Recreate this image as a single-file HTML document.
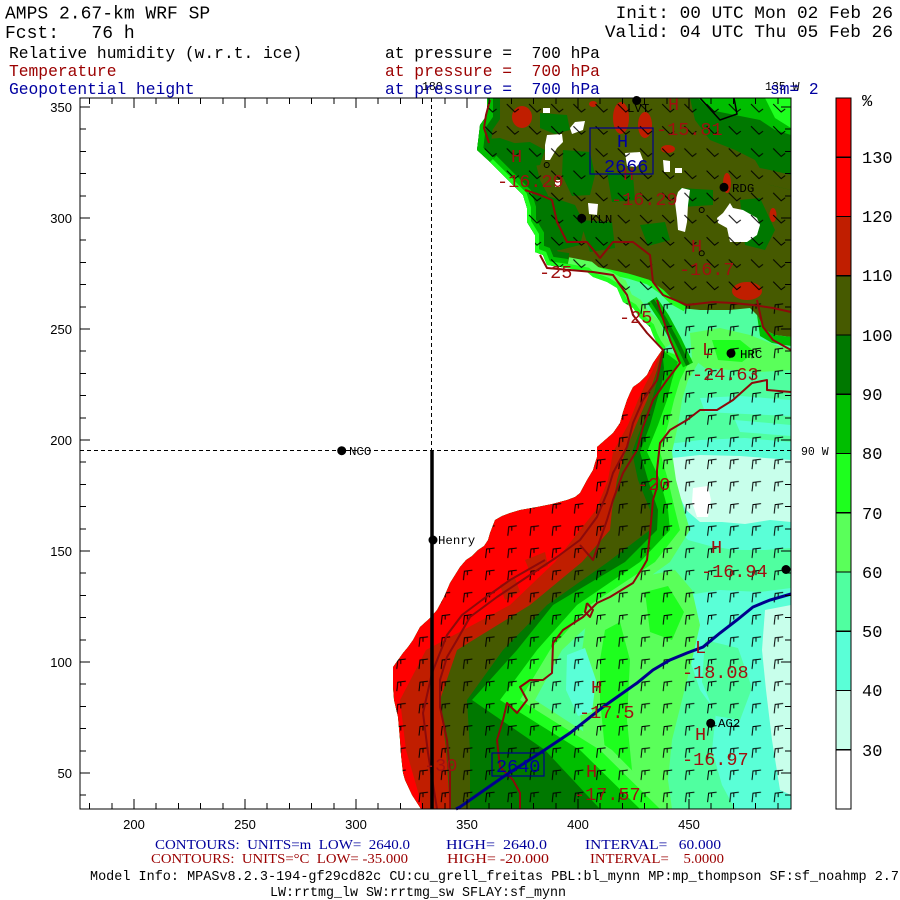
<!DOCTYPE html>
<html><head><meta charset="utf-8"><style>
html,body{margin:0;padding:0;background:#fff;}
svg{display:block;}
text{white-space:pre;}
</style></head><body>
<svg width="900" height="900" viewBox="0 0 900 900" xmlns="http://www.w3.org/2000/svg">
<defs>
<clipPath id="cp"><polygon points="487,98 791,98 791,809 421,809 412,795 405,780 403,773 401,755 400,740 398,717 394,700 393,687 393,667 398,660 403,653 408,647 413,640 420,627 430,618 437,610 444,597 450,583 455,575 460,567 466,560 472,556 478,550 484,546 488,540 490,533 495,520 502,516 510,513 520,510 537,507 552,504 567,500 575,497 580,493 587,480 593,470 595,463 597,457 597,447 605,440 613,433 620,423 623,412 627,400 630,393 633,387 640,382 647,375 653,363 662,350 657,343 653,335 650,327 640,318 633,308 623,302 617,288 607,282 593,277 587,272 567,268 547,265 543,255 535,252 535,235 527,222 527,208 523,195 513,185 490,162 477,150 478,142 480,125 487,115"/></clipPath>
<pattern id="bn" x="80" y="98" width="22.2" height="22.2" patternUnits="userSpaceOnUse">
<path d="M5,6 L13,14 L17,11" stroke="#000" stroke-width="1" fill="none"/>
</pattern>
<pattern id="bs" x="80" y="98" width="22.2" height="22.2" patternUnits="userSpaceOnUse">
<path d="M6,16 L7,7 L15,6 M10,7 L10,11" stroke="#000" stroke-width="1" fill="none"/>
</pattern>
</defs>
<rect width="900" height="900" fill="#fff"/>

<g clip-path="url(#cp)">
<rect x="80" y="98" width="711" height="711" fill="#50FFA0"/>
<polygon fill="#5AFFD7" points="700,398 740,396 791,400 791,416 745,414 705,412"/>
<polygon fill="#5AFFD7" points="735,420 791,425 791,436 740,432"/>
<polygon fill="#5AFFD7" points="660,445 700,440 745,438 791,442 791,548 765,550 735,550 710,546 688,540 672,522 664,495 662,470"/>
<polygon fill="#C8FFEB" points="672,458 700,455 740,456 791,460 791,522 770,520 745,524 722,522 700,522 686,510 676,488"/>
<polygon fill="#FFFFFF" points="693,488 708,486 711,500 708,517 697,517 692,502"/>
<polygon fill="#5AFFD7" points="688,595 720,590 760,592 791,588 791,809 735,809 722,785 712,750 716,712 700,690 690,660 692,625"/>
<polygon fill="#50FFA0" points="705,640 738,648 752,688 740,720 716,716 702,682"/>
<polygon fill="#C8FFEB" points="765,610 791,605 791,795 780,790 772,740 766,690 762,650"/>
<polygon fill="#5AFF5A" points="590,600 620,585 650,575 675,570 692,590 700,625 692,660 682,700 672,740 668,780 672,809 612,809 598,775 585,740 578,705 580,665 585,630"/>
<polygon fill="#1EFF1E" points="605,630 620,622 630,660 627,720 632,770 645,809 618,809 606,760 600,700 600,660"/>
<polygon fill="#1EFF1E" points="645,592 668,586 684,612 672,640 650,632"/>
<polygon fill="#5AFFD7" points="567,655 585,648 596,680 592,712 578,716 566,690"/>
<polygon fill="#5AFF5A" points="662,350 653,363 647,375 640,382 633,387 630,393 627,400 623,412 620,423 613,433 605,440 597,447 597,457 595,463 593,470 587,480 580,493 575,497 567,500 552,504 537,507 520,510 510,513 502,516 495,520 490,533 488,540 484,546 478,550 472,556 466,560 460,567 455,575 450,583 444,597 437,610 430,618 420,627 413,640 408,647 403,653 398,660 393,667 393,687 394,700 398,717 400,740 401,755 403,773 405,780 412,795 421,809 670,809 612,750 535,700 562,650 610,605 670,562 690,530 684,510 676,480 672,452 678,425 682,400 688,380 700,360"/>
<polygon fill="#1EFF1E" points="662,350 653,363 647,375 640,382 633,387 630,393 627,400 623,412 620,423 613,433 605,440 597,447 597,457 595,463 593,470 587,480 580,493 575,497 567,500 552,504 537,507 520,510 510,513 502,516 495,520 490,533 488,540 484,546 478,550 472,556 466,560 460,567 455,575 450,583 444,597 437,610 430,618 420,627 413,640 408,647 403,653 398,660 393,667 393,687 394,700 398,717 400,740 401,755 403,773 405,780 412,795 421,809 660,809 600,750 520,700 550,650 590,605 655,562 680,530 675,510 668,480 660,452 668,425 674,400 680,380 690,360"/>
<polygon fill="#00BE00" points="662,350 653,363 647,375 640,382 633,387 630,393 627,400 623,412 620,423 613,433 605,440 597,447 597,457 595,463 593,470 587,480 580,493 575,497 567,500 552,504 537,507 520,510 510,513 502,516 495,520 490,533 488,540 484,546 478,550 472,556 466,560 460,567 455,575 450,583 444,597 437,610 430,618 420,627 413,640 408,647 403,653 398,660 393,667 393,687 394,700 398,717 400,740 401,755 403,773 405,780 412,795 421,809 640,809 580,750 500,700 537,650 577,605 640,562 670,530 668,510 660,480 647,452 658,425 667,400 672,380 678,362"/>
<polygon fill="#007800" points="662,350 653,363 647,375 640,382 633,387 630,393 627,400 623,412 620,423 613,433 605,440 597,447 597,457 595,463 593,470 587,480 580,493 575,497 567,500 552,504 537,507 520,510 510,513 502,516 495,520 490,533 488,540 484,546 478,550 472,556 466,560 460,567 455,575 450,583 444,597 437,610 430,618 420,627 413,640 408,647 403,653 398,660 393,667 393,687 394,700 398,717 400,740 401,755 403,773 405,780 412,795 421,809 600,809 545,750 472,700 517,650 553,605 625,562 657,530 658,510 648,480 640,452 650,425 657,400 662,382 664,368"/>
<polygon fill="#465A00" points="662,350 653,363 647,375 640,382 633,387 630,393 627,400 623,412 620,423 613,433 605,440 597,447 597,457 595,463 593,470 587,480 580,493 575,497 567,500 552,504 537,507 520,510 510,513 502,516 495,520 490,533 488,540 484,546 478,550 472,556 466,560 460,567 455,575 450,583 444,597 437,610 430,618 420,627 413,640 408,647 403,653 398,660 393,667 393,687 394,700 398,717 400,740 401,755 403,773 405,780 412,795 421,809 470,809 470,750 467,700 503,650 547,605 608,562 650,530 650,510 638,480 632,452 642,425 652,400 657,382 660,368"/>
<polygon fill="#C01E00" points="662,350 653,363 647,375 640,382 633,387 630,393 627,400 623,412 620,423 613,433 605,440 597,447 597,457 595,463 593,470 587,480 580,493 575,497 567,500 552,504 537,507 520,510 510,513 502,516 495,520 490,533 488,540 484,546 478,550 472,556 466,560 460,567 455,575 450,583 444,597 437,610 430,618 420,627 413,640 408,647 403,653 398,660 393,667 393,687 394,700 398,717 400,740 401,755 403,773 405,780 412,795 421,809 450,809 446,750 440,700 457,650 530,605 582,562 610,530 612,510 617,480 625,452 636,425 647,400 652,385 657,370"/>
<polygon fill="#FF0000" points="662,350 653,363 647,375 640,382 633,387 630,393 627,400 623,412 620,423 613,433 605,440 597,447 597,457 595,463 593,470 587,480 580,493 575,497 567,500 552,504 537,507 520,510 510,513 502,516 495,520 490,533 488,540 484,546 478,550 472,556 466,560 460,567 455,575 450,583 444,597 437,610 430,618 420,627 413,640 408,647 403,653 398,660 393,667 393,687 394,700 398,717 400,740 401,755 403,773 405,780 412,795 421,809 423,809 406,750 400,700 426,650 510,605 555,562 580,530 596,510 608,480 613,452 628,425 638,400 645,385 652,372"/>
<polygon fill="#C01E00" points="500,585 515,578 520,592 505,600"/>
<polygon fill="#C01E00" points="525,560 545,552 548,566 530,572"/>
<path d="M652,300 L664,318 L676,340 L688,365" stroke="#00BE00" stroke-width="11" fill="none"/>
<path d="M652,300 L664,318 L676,340 L688,365" stroke="#007800" stroke-width="4" fill="none"/>
<polygon fill="#5AFF5A" points="690,333 720,328 750,335 775,345 791,350 791,370 760,372 730,370 705,368 692,358"/>
<polygon fill="#1EFF1E" points="712,340 740,340 755,352 742,362 718,360"/>
<polygon fill="#465A00" points="470,98 791,98 791,337 775,335 765,330 757,315 750,308 730,310 700,310 680,308 668,300 660,292 645,282 625,277 600,272 575,267 545,260 470,200"/>
<polygon fill="#00BE00" points="757,315 765,330 775,335 791,337 791,346 772,343 760,336"/>
<g fill="#007800">
<polygon points="476,140 500,138 520,145 535,160 540,180 548,195 545,215 540,235 535,252 527,222 527,208 523,195 513,185 490,162 477,150"/>
<polygon points="490,145 530,142 545,150 540,165 520,168 500,160"/>
<polygon points="540,113 567,115 570,130 555,134 540,128"/>
<polygon points="563,150 590,152 595,175 590,195 572,196 562,175"/>
<polygon points="513,198 545,195 575,205 585,225 580,245 560,250 530,248 520,230"/>
<polygon points="580,220 612,222 615,248 590,252"/>
<polygon points="607,172 633,175 635,200 612,202"/>
<polygon points="680,188 713,190 713,205 682,207"/>
<polygon points="690,98 791,98 791,190 770,185 755,160 735,150 710,140 695,120"/>
<polygon points="740,200 760,198 775,230 765,250 745,245"/>
<polygon points="640,225 665,222 670,240 648,246"/>
</g>
<polygon fill="#465A00" points="745,165 770,170 791,175 791,190 770,185 752,178"/>
<polygon fill="#00BE00" points="698,98 791,98 791,135 775,130 760,120 735,115 710,110"/>
<polygon fill="#1EFF1E" points="765,98 791,98 791,128 775,118"/>
<path d="M487,98 L487,115 L480,125 L478,142 L477,150 L490,162" stroke="#007800" stroke-width="26" fill="none"/>
<path d="M487,98 L487,115 L480,125 L478,142 L477,150 L490,162" stroke="#00BE00" stroke-width="12" fill="none"/>
<path d="M490,162 L513,185 L523,195 L527,208 L527,222 L535,235 L535,252 L543,255 L547,265 L567,268" stroke="#007800" stroke-width="30" fill="none"/>
<path d="M490,162 L513,185 L523,195 L527,208 L527,222 L535,235 L535,252 L543,255 L547,265 L567,268" stroke="#00BE00" stroke-width="18" fill="none"/>
<path d="M490,162 L513,185 L523,195 L527,208 L527,222 L535,235 L535,252 L543,255 L547,265 L567,268" stroke="#1EFF1E" stroke-width="8" fill="none"/>
<path d="M580,266 L605,271 L628,276 L648,282 L662,292 L672,302 L685,309" stroke="#1EFF1E" stroke-width="5" fill="none"/>
<path d="M567,268 L587,272 L593,277 L607,282 L617,288 L623,302 L633,308 L640,318 L650,327 L653,335 L657,343 L662,350" stroke="#5AFF5A" stroke-width="22" fill="none"/>
<path d="M567,268 L587,272 L593,277 L607,282 L617,288 L623,302 L633,308 L640,318 L650,327 L653,335 L657,343 L662,350" stroke="#1EFF1E" stroke-width="9" fill="none"/>
<g fill="#C01E00">
<ellipse cx="522" cy="117" rx="10" ry="11"/>
<ellipse cx="621" cy="118" rx="8" ry="16"/>
<ellipse cx="645" cy="125" rx="7" ry="13"/>
<ellipse cx="668" cy="149" rx="7" ry="4"/>
<ellipse cx="727" cy="183" rx="4" ry="10"/>
<ellipse cx="773" cy="215" rx="3.5" ry="7"/>
<ellipse cx="747" cy="291" rx="15" ry="9"/>
<ellipse cx="593" cy="104" rx="4" ry="3"/>
</g>
<g fill="#fff">
<polygon points="547,135 562,134 563,142 557,148 550,160 545,160 545,145"/>
<polygon points="575,122 585,121 583,130 572,134 570,128"/>
<polygon points="543,108 550,108 550,113 543,113"/>
<polygon points="625,153 640,152 643,160 636,167 627,166"/>
<polygon points="663,160 670,161 670,172 664,172"/>
<polygon points="675,168 682,168 682,173 675,173"/>
<polygon points="682,188 690,190 688,205 687,222 685,232 678,230 677,218 675,202 678,192"/>
<polygon points="730,203 733,208 743,210 757,218 760,225 757,235 747,242 730,242 727,228 718,223 717,218 723,213"/>
<polygon points="555,180 560,180 560,187 555,187"/>
<polygon points="588,203 598,204 597,215 589,214"/>
</g>
<rect x="80" y="98" width="711" height="202" fill="url(#bn)"/>
<rect x="80" y="300" width="711" height="509" fill="url(#bs)"/>
</g>

<g stroke="#8c0a0a" stroke-width="2" fill="none" stroke-linejoin="round">
<polyline points="490,100 486,115 484,128 489,143"/>
<polyline points="525,190 540,195 552,200 557,222 567,242 587,242 600,258 613,242 633,242 650,255 653,282 663,295 687,305 713,302 733,303 753,305 773,308 791,312"/>
<polyline points="540,255 547,268 593,272 613,275 627,295 633,315 647,333 663,350 657,380 643,400 633,423 627,447 613,473 607,493 597,517 580,540 557,557 530,575 497,597 470,617 457,640 447,657 440,680 440,707 447,740 450,773 450,809"/>
<polyline points="657,300 670,340 680,363 667,380 653,400 643,427 637,450 623,473 613,500 607,520 600,540 593,560 580,545"/>
<polyline points="545,560 510,580 482,600 462,615 447,635 432,673 423,713 428,753 437,809"/>
<polyline points="791,392 767,390 767,380 752,383 733,400 717,410 700,410 687,420 670,430 660,443 657,470 657,487 653,500 650,533 647,560 643,567 633,583 610,597 597,603 583,617 563,630 553,643 552,673 543,680 530,680 520,687 527,700 517,713 507,703 503,720 497,740 500,767 513,780 520,793 520,809"/>
<polyline points="757,300 763,327 773,340 791,350"/>
<polyline points="587,603 593,610 590,617 585,612 587,603"/>
</g>
<path d="M700,98 L720,120 L737,114 L734,98" stroke="#000" stroke-width="1.5" fill="none"/>
<polyline points="456,809 460,807 503,777 540,753 570,733 603,707 620,695 637,683 653,670 670,660 687,653 703,647 720,633 737,620 753,607 770,600 791,594" stroke="#00008c" stroke-width="3" fill="none"/>

<path d="M431.5,98 V450" stroke="#000" stroke-width="1" stroke-dasharray="4 3"/>
<path d="M80,450.5 H791" stroke="#000" stroke-width="1" stroke-dasharray="4 3"/>
<path d="M432,450 V809" stroke="#000" stroke-width="3.5"/>

<g font-family="Liberation Mono, monospace" font-size="18.5" fill="#a01010">
<text x="511" y="162">H</text>
<text x="497" y="187">-16.29</text>
<text x="668" y="110">H</text>
<text x="656" y="135">-15.81</text>
<text x="623" y="180">H</text>
<text x="611" y="205">-16.29</text>
<text x="691" y="252">H</text>
<text x="679" y="275">-16.7</text>
<text x="539" y="278">-25</text>
<text x="619" y="323">-25</text>
<text x="702" y="355">L</text>
<text x="692" y="380">-24.63</text>
<text x="637" y="490">-20</text>
<text x="711" y="553">H</text>
<text x="701" y="577">-16.94</text>
<text x="695" y="653">L</text>
<text x="682" y="678">-18.08</text>
<text x="591" y="693">H</text>
<text x="579" y="718">-17.5</text>
<text x="695" y="740">H</text>
<text x="682" y="765">-16.97</text>
<text x="586" y="777">H</text>
<text x="574" y="800">-17.57</text>
<text x="424" y="771">-30</text>
</g>
<g font-family="Liberation Mono, monospace" font-size="18.5" fill="#0000a0">
<rect x="590" y="128" width="63" height="46" fill="none" stroke="#00008c" stroke-width="1.2"/>
<text x="617" y="147">H</text>
<text x="604" y="172">2666</text>
<rect x="492" y="753" width="52" height="23" fill="none" stroke="#00008c" stroke-width="1.2"/>
<text x="496" y="772">2640</text>
</g>

<g fill="#000">
<circle cx="341.7" cy="450.7" r="4.5"/>
<circle cx="433" cy="540" r="4.5"/>
<circle cx="581.7" cy="218.3" r="4.5"/>
<circle cx="724" cy="187.3" r="4.5"/>
<circle cx="731" cy="353.3" r="4.5"/>
<circle cx="710.7" cy="723.3" r="4.5"/>
<circle cx="636.7" cy="100.5" r="4.5"/>
<circle cx="786" cy="569.5" r="4.5"/>
</g>
<g fill="none" stroke="#000" stroke-width="1">
<circle cx="546.7" cy="165" r="2.5"/>
<circle cx="701.7" cy="210" r="2.5"/>
<circle cx="701.7" cy="253.3" r="2.5"/>
</g>
<g font-family="Liberation Mono, monospace" font-size="12.4" fill="#000">
<text x="349" y="455">NCO</text>
<text x="438" y="544">Henry</text>
<text x="590" y="223">KLN</text>
<text x="732" y="192">RDG</text>
<text x="740" y="358">HRC</text>
<text x="718" y="727">AG2</text>
<text x="627" y="112">LVT</text>
</g>
<g font-family="Liberation Mono, monospace" font-size="11.5" fill="#000">
<text x="422" y="90">180</text>
<text x="801" y="455">90 W</text>
<text x="765" y="90">135 W</text>
</g>
<text x="770" y="94" font-family="Liberation Mono, monospace" font-size="16.2" fill="#0000a0">sm= 2</text>

<g stroke="#000" stroke-width="1" fill="none" shape-rendering="crispEdges">
<rect x="80" y="98" width="711" height="711"/>
<path d="M89.6,809v-6 M111.8,809v-6 M134,809v-10 M156.2,809v-6 M178.4,809v-6 M200.6,809v-6 M222.8,809v-6 M245,809v-10 M267.2,809v-6 M289.4,809v-6 M311.6,809v-6 M333.8,809v-6 M356,809v-10 M378.2,809v-6 M400.4,809v-6 M422.6,809v-6 M444.8,809v-6 M467,809v-10 M489.2,809v-6 M511.4,809v-6 M533.6,809v-6 M555.8,809v-6 M578,809v-10 M600.2,809v-6 M622.4,809v-6 M644.6,809v-6 M666.8,809v-6 M689,809v-10 M711.2,809v-6 M733.4,809v-6 M755.6,809v-6 M777.8,809v-6"/>
<path transform="translate(0,907) scale(1,-1)" d="M89.6,809v-6 M111.8,809v-6 M134,809v-10 M156.2,809v-6 M178.4,809v-6 M200.6,809v-6 M222.8,809v-6 M245,809v-10 M267.2,809v-6 M289.4,809v-6 M311.6,809v-6 M333.8,809v-6 M356,809v-10 M378.2,809v-6 M400.4,809v-6 M422.6,809v-6 M444.8,809v-6 M467,809v-10 M489.2,809v-6 M511.4,809v-6 M533.6,809v-6 M555.8,809v-6 M578,809v-10 M600.2,809v-6 M622.4,809v-6 M644.6,809v-6 M666.8,809v-6 M689,809v-10 M711.2,809v-6 M733.4,809v-6 M755.6,809v-6 M777.8,809v-6"/>
<path d="M80,107h10 M80,129.2h6 M80,151.4h6 M80,173.6h6 M80,195.8h6 M80,218h10 M80,240.2h6 M80,262.4h6 M80,284.6h6 M80,306.8h6 M80,329h10 M80,351.2h6 M80,373.4h6 M80,395.6h6 M80,417.8h6 M80,440h10 M80,462.2h6 M80,484.4h6 M80,506.6h6 M80,528.8h6 M80,551h10 M80,573.2h6 M80,595.4h6 M80,617.6h6 M80,639.8h6 M80,662h10 M80,684.2h6 M80,706.4h6 M80,728.6h6 M80,750.8h6 M80,773h10 M80,795.2h6"/>
<path transform="translate(871,0) scale(-1,1)" d="M80,107h10 M80,129.2h6 M80,151.4h6 M80,173.6h6 M80,195.8h6 M80,218h10 M80,240.2h6 M80,262.4h6 M80,284.6h6 M80,306.8h6 M80,329h10 M80,351.2h6 M80,373.4h6 M80,395.6h6 M80,417.8h6 M80,440h10 M80,462.2h6 M80,484.4h6 M80,506.6h6 M80,528.8h6 M80,551h10 M80,573.2h6 M80,595.4h6 M80,617.6h6 M80,639.8h6 M80,662h10 M80,684.2h6 M80,706.4h6 M80,728.6h6 M80,750.8h6 M80,773h10 M80,795.2h6"/>
</g>
<g font-family="Liberation Sans, sans-serif" font-size="13" fill="#000" text-anchor="middle">
<text x="134" y="829">200</text>
<text x="245" y="829">250</text>
<text x="356" y="829">300</text>
<text x="467" y="829">350</text>
<text x="578" y="829">400</text>
<text x="689" y="829">450</text>
</g>
<g font-family="Liberation Sans, sans-serif" font-size="13" fill="#000" text-anchor="end">
<text x="72" y="112">350</text>
<text x="72" y="223">300</text>
<text x="72" y="334">250</text>
<text x="72" y="445">200</text>
<text x="72" y="556">150</text>
<text x="72" y="667">100</text>
<text x="72" y="778">50</text>
</g>

<g stroke="#000" stroke-width="1.2" shape-rendering="crispEdges">
<rect x="836" y="98" width="15" height="59.25" fill="#FF0000"/>
<rect x="836" y="157.25" width="15" height="59.25" fill="#FF0000"/>
<rect x="836" y="216.5" width="15" height="59.25" fill="#C01E00"/>
<rect x="836" y="275.75" width="15" height="59.25" fill="#465A00"/>
<rect x="836" y="335" width="15" height="59.25" fill="#007800"/>
<rect x="836" y="394.25" width="15" height="59.25" fill="#00BE00"/>
<rect x="836" y="453.5" width="15" height="59.25" fill="#1EFF1E"/>
<rect x="836" y="512.75" width="15" height="59.25" fill="#5AFF5A"/>
<rect x="836" y="572" width="15" height="59.25" fill="#50FFA0"/>
<rect x="836" y="631.25" width="15" height="59.25" fill="#5AFFD7"/>
<rect x="836" y="690.5" width="15" height="59.25" fill="#C8FFEB"/>
<rect x="836" y="749.75" width="15" height="59.25" fill="#FFFFFF"/>
</g>
<g font-family="Liberation Mono, monospace" font-size="17" fill="#000">
<text x="862" y="106">%</text>
<text x="862" y="163">130</text>
<text x="862" y="222">120</text>
<text x="862" y="281">110</text>
<text x="862" y="341">100</text>
<text x="862" y="400">90</text>
<text x="862" y="459">80</text>
<text x="862" y="519">70</text>
<text x="862" y="578">60</text>
<text x="862" y="637">50</text>
<text x="862" y="696">40</text>
<text x="862" y="756">30</text>
</g>

<g font-family="Liberation Mono, monospace" fill="#000">
<text x="5" y="18.5" font-size="18">AMPS 2.67-km WRF SP</text>
<text x="5" y="38" font-size="18">Fcst:   76 h</text>
<text x="893" y="18" font-size="17.8" text-anchor="end">Init: 00 UTC Mon 02 Feb 26</text>
<text x="893" y="37" font-size="17.8" text-anchor="end">Valid: 04 UTC Thu 05 Feb 26</text>
</g>
<g font-family="Liberation Mono, monospace" font-size="16.3">
<text x="9" y="58" fill="#000">Relative humidity (w.r.t. ice)</text>
<text x="9" y="76" fill="#9b0000">Temperature</text>
<text x="9" y="94" fill="#0000a0">Geopotential height</text>
<text x="385" y="58" fill="#000">at pressure =  700 hPa</text>
<text x="385" y="76" fill="#9b0000">at pressure =  700 hPa</text>
<text x="385" y="94" fill="#0000a0">at pressure =  700 hPa</text>
</g>

<g font-family="Liberation Serif, serif" font-size="13.5" fill="#00009c">
<text x="155" y="849" textLength="255" lengthAdjust="spacingAndGlyphs">CONTOURS:  UNITS=m  LOW=  2640.0</text>
<text x="446" y="849" textLength="101" lengthAdjust="spacingAndGlyphs">HIGH=  2640.0</text>
<text x="585" y="849" textLength="136" lengthAdjust="spacingAndGlyphs">INTERVAL=   60.000</text>
</g>
<g font-family="Liberation Serif, serif" font-size="13.5" fill="#9b0000">
<text x="151" y="863" textLength="257" lengthAdjust="spacingAndGlyphs">CONTOURS:  UNITS=°C  LOW= -35.000</text>
<text x="447" y="863" textLength="102" lengthAdjust="spacingAndGlyphs">HIGH= -20.000</text>
<text x="590" y="863" textLength="134" lengthAdjust="spacingAndGlyphs">INTERVAL=    5.0000</text>
</g>
<g font-family="Liberation Mono, monospace" font-size="13.5" fill="#000">
<text x="90" y="880" textLength="809" lengthAdjust="spacingAndGlyphs">Model Info: MPASv8.2.3-194-gf29cd82c CU:cu_grell_freitas PBL:bl_mynn MP:mp_thompson SF:sf_noahmp 2.7</text>
<text x="270" y="896" textLength="296" lengthAdjust="spacingAndGlyphs">LW:rrtmg_lw SW:rrtmg_sw SFLAY:sf_mynn</text>
</g>
</svg>
</body></html>
